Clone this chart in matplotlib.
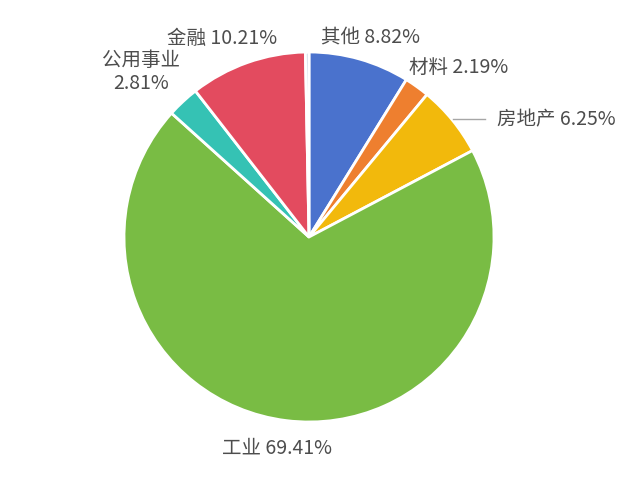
import matplotlib
matplotlib.use("Agg")
import matplotlib.pyplot as plt

plt.rcParams['font.family'] = ['Noto Sans CJK SC', 'DejaVu Sans']

categories = ['其他', '材料', '房地产', '工业', '公用事业', '金融', '']
values = [8.82, 2.19, 6.25, 69.41, 2.81, 10.21, 0.31]
colors = ['#4A72CD', '#EE7F2F', '#F2B90C', '#79BC44', '#35C2B4', '#E34B5F', '#C9D3E3']

# label layout (pixel positions in the 641x481 image, y from top)
label_pos = [(370, 38), (459, 67), (556, 120), (277, 448), (141, 72), (222, 38), None]

W, H = 641, 481
fig = plt.figure(figsize=(W / 100, H / 100), dpi=100)
ax = fig.add_axes([0, 0, 1, 1])
ax.set_xlim(0, W)
ax.set_ylim(0, H)
ax.set_aspect('equal')
ax.axis('off')

ax.pie(values, colors=colors, startangle=90, counterclock=False,
       center=(309, H - 238), radius=185,
       wedgeprops=dict(edgecolor='white', linewidth=2))
ax.set_xlim(0, W)
ax.set_ylim(0, H)

for cat, v, pos in zip(categories, values, label_pos):
    if pos is None:
        continue
    x, y = pos
    if cat == '公用事业':
        txt = f'{cat}\n{v:.2f}%'
    else:
        txt = f'{cat} {v:.2f}%'
    ax.text(x, H - y, txt, ha='center', va='center', fontsize=14,
            color='#4D4D4D', linespacing=1.15)

# leader line for 房地产
ax.plot([453, 485], [H - 120, H - 120], color='#A6A6A6', lw=1)

fig.savefig('out.png', dpi=100, facecolor='white')
